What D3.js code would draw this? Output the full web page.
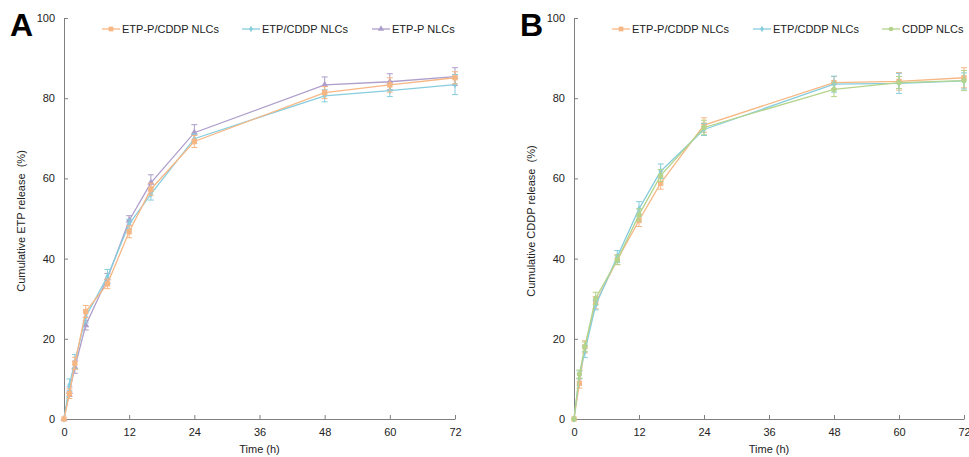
<!DOCTYPE html>
<html>
<head>
<meta charset="utf-8">
<script src="https://cdn.jsdelivr.net/npm/d3@7"></script>
<style>
  body { margin: 0; background: #fff; }
  svg { font-family: "Liberation Sans", Arial, sans-serif; }
</style>
</head>
<body>
<svg width="969" height="457"></svg>
<script>
// tidspunkter (h)
const time = [0, 1, 2, 4, 8, 12, 16, 24, 48, 60, 72];
const xTicks = [0, 12, 24, 36, 48, 60, 72];
const yTicks = [0, 20, 40, 60, 80, 100];

// Panel A - ETP frigivelse
const aNames = ["ETP-P/CDDP NLCs", "ETP/CDDP NLCs", "ETP-P NLCs"];
const aEtpPCddp = [0, 6.3, 13.9, 26.8, 33.7, 46.7, 57.3, 69.2, 81.4, 83.3, 85.1];
const aEtpCddp  = [0, 8.5, 14.3, 25.5, 35.5, 48.6, 56.1, 69.9, 80.6, 81.9, 83.4];
const aEtpP     = [0, 6.8, 12.9, 23.4, 35.1, 49.5, 58.9, 71.4, 83.3, 84.1, 85.4];
const aErrEtpPCddp = [0, 1.2, 1.5, 1.5, 1.2, 1.5, 1.5, 1.5, 1.5, 1.8, 1.5];
const aErrEtpCddp  = [0, 1.5, 1.8, 1.5, 1.8, 1.2, 1.5, 1.2, 1.5, 1.5, 2.5];
const aErrEtpP     = [0, 1.2, 1.5, 1.2, 1.2, 1.2, 2.0, 2.0, 2.0, 2.0, 2.2];

// Panel B - CDDP frigivelse
const bNames = ["ETP-P/CDDP NLCs", "ETP/CDDP NLCs", "CDDP NLCs"];
const bEtpPCddp = [0, 8.9, 18.0, 29.0, 39.7, 49.5, 58.8, 73.3, 83.9, 84.2, 85.1];
const bEtpCddp  = [0, 11.0, 16.8, 28.4, 40.5, 52.4, 61.8, 72.2, 83.5, 83.7, 84.3];
const bCddp     = [0, 11.2, 18.0, 30.1, 39.7, 50.9, 60.7, 72.7, 82.2, 83.9, 84.4];
const bErrEtpPCddp = [0, 1.2, 1.5, 1.5, 1.2, 1.5, 1.5, 1.8, 1.5, 2.2, 2.5];
const bErrEtpCddp  = [0, 1.0, 1.5, 1.2, 1.5, 1.8, 1.8, 1.5, 2.0, 2.5, 2.0];
const bErrCddp     = [0, 1.0, 1.2, 1.5, 1.2, 1.5, 1.5, 1.8, 1.8, 1.5, 2.5];

const colors = { orange: "#f7b784", cyan: "#86cddd", purple: "#ae9ecb", green: "#b4d48b" };

const svg = d3.select("svg");

function drawPanel(cfg) {
  const x = d3.scaleLinear().domain([0, 72]).range([cfg.x0, cfg.x1]);
  const y = d3.scaleLinear().domain([0, 100]).range([419, 18]);
  const g = svg.append("g");

  // Akser med indadvendte ticks
  const xAxis = g.append("g")
    .attr("transform", "translate(0,419)")
    .call(d3.axisBottom(x).tickValues(xTicks).tickSizeInner(-4).tickSizeOuter(0).tickPadding(9));
  const yAxis = g.append("g")
    .attr("transform", `translate(${cfg.x0},0)`)
    .call(d3.axisLeft(y).tickValues(yTicks).tickSizeInner(-4).tickSizeOuter(0).tickPadding(9));
  [xAxis, yAxis].forEach(a => {
    a.select(".domain").attr("stroke", "#808080");
    a.selectAll(".tick line").attr("stroke", "#808080");
    a.selectAll(".tick text").attr("fill", "#222").style("font-size", "11px");
  });

  g.append("text")
    .attr("x", (cfg.x0 + cfg.x1) / 2).attr("y", 453)
    .attr("text-anchor", "middle").attr("fill", "#222").style("font-size", "11px")
    .text("Time (h)");
  g.append("text")
    .attr("transform", `translate(${cfg.x0 - 39},221) rotate(-90)`)
    .attr("text-anchor", "middle").attr("fill", "#222").style("font-size", "11px")
    .attr("xml:space", "preserve")
    .text(cfg.yLabel);
  g.append("text")
    .attr("x", cfg.x0 - 54).attr("y", 36)
    .attr("fill", "#000").style("font-size", "32px").style("font-weight", "bold")
    .text(cfg.letter);

  const line = d3.line().x(d => x(d.t)).y(d => y(d.v));

  cfg.series.forEach(s => {
    const pts = time.map((t, i) => ({ t, v: s.values[i], e: s.err[i] }));
    const sg = g.append("g");
    // fejlstreger
    pts.filter(d => d.e > 0).forEach(d => {
      sg.append("path")
        .attr("d", `M${x(d.t) - 3},${y(d.v + d.e)}H${x(d.t) + 3}M${x(d.t)},${y(d.v + d.e)}V${y(d.v - d.e)}M${x(d.t) - 3},${y(d.v - d.e)}H${x(d.t) + 3}`)
        .attr("stroke", s.color).attr("stroke-width", 1).attr("fill", "none");
    });
    sg.append("path").datum(pts)
      .attr("d", line).attr("fill", "none")
      .attr("stroke", s.color).attr("stroke-width", 1.3);
    sg.selectAll(".m").data(pts).join("path")
      .attr("transform", d => `translate(${x(d.t)},${y(d.v)})`)
      .attr("d", d3.symbol().type(s.symbol).size(s.size))
      .attr("fill", s.color);

    // legende
    const lg = g.append("g").attr("transform", `translate(${s.lx},29)`);
    lg.append("line").attr("x1", 0).attr("x2", 18).attr("stroke", s.color).attr("stroke-width", 1.3);
    lg.append("path").attr("transform", "translate(9,0)")
      .attr("d", d3.symbol().type(s.symbol).size(s.size * 0.8)).attr("fill", s.color);
    lg.append("text").attr("x", 20).attr("y", 4).attr("fill", "#222")
      .style("font-size", "11px").text(s.name);
  });
}

drawPanel({
  x0: 64, x1: 455, letter: "A", yLabel: "Cumulative ETP release  (%)",
  series: [
    { name: aNames[2], values: aEtpP, err: aErrEtpP, color: colors.purple, symbol: d3.symbolTriangle, size: 22, lx: 372 },
    { name: aNames[1], values: aEtpCddp, err: aErrEtpCddp, color: colors.cyan, symbol: d3.symbolDiamond, size: 16, lx: 242 },
    { name: aNames[0], values: aEtpPCddp, err: aErrEtpPCddp, color: colors.orange, symbol: d3.symbolSquare, size: 28, lx: 102 }
  ]
});

drawPanel({
  x0: 574, x1: 964, letter: "B", yLabel: "Cumulative CDDP release  (%)",
  series: [
    { name: bNames[0], values: bEtpPCddp, err: bErrEtpPCddp, color: colors.orange, symbol: d3.symbolSquare, size: 28, lx: 612 },
    { name: bNames[1], values: bEtpCddp, err: bErrEtpCddp, color: colors.cyan, symbol: d3.symbolDiamond, size: 16, lx: 753 },
    { name: bNames[2], values: bCddp, err: bErrCddp, color: colors.green, symbol: d3.symbolCircle, size: 22, lx: 882 }
  ]
});
</script>
</body>
</html>
